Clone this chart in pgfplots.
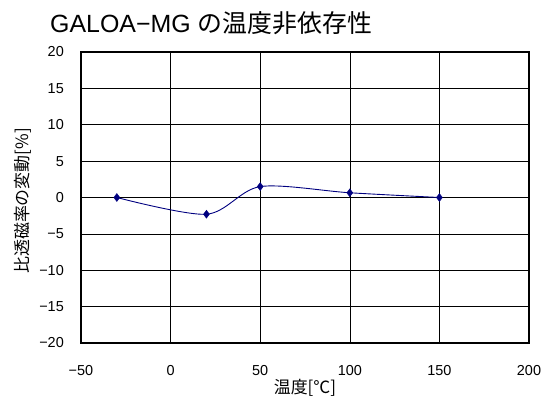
\documentclass[border=0pt]{standalone}
\usepackage{pgfplots}
\pgfplotsset{compat=1.18}
\usepackage{fontspec}
\setmainfont{Liberation Sans}
\newfontfamily\cjk{Noto Sans CJK JP}
\definecolor{navy}{RGB}{0,0,128}
\begin{document}
\begin{tikzpicture}
\path[use as bounding box] (0,0) rectangle (548bp,403bp);
\begin{axis}[
  at={(81bp,60bp)}, anchor=south west,
  width=448bp, height=291bp, scale only axis,
  xmin=-50, xmax=200, ymin=-20, ymax=20,
  xtick={-50,0,50,100,150,200},
  ytick={-20,-15,-10,-5,0,5,10,15,20},
  xticklabels={−50,0,50,100,150,200},
  yticklabels={−20,−15,−10,−5,0,5,10,15,20},
  grid=major,
  major grid style={black, line width=0.6pt},
  axis line style={black, line width=1.3pt},
  tick style={draw=none},
  ticklabel style={font=\fontsize{14.5}{17}\selectfont},
  yticklabel style={inner sep=0pt, anchor=east, xshift=-17bp},
  xticklabel style={inner sep=0pt, anchor=north, yshift=-22bp},
  axis on top=false,
]
\addplot[navy, line width=0.9pt, smooth, tension=0.5,
  mark=diamond*, mark size=4pt, mark options={fill=navy, draw=navy, line width=0.4pt}]
  coordinates {(-30,0) (20,-2.3) (50,1.5) (100,0.65) (150,0)};
\end{axis}
\node[anchor=base west, inner sep=0pt] at (50bp,370bp)
  {\fontsize{25}{30}\selectfont GALOA−MG {\cjk の温度非依存性}};
\node[inner sep=0pt] at (305bp,15bp)
  {\cjk\fontsize{17}{20}\selectfont 温度[℃]};
\node[inner sep=0pt, rotate=90] at (23bp,202bp)
  {\cjk\fontsize{17}{20}\selectfont 比透磁率の変動[\%]};
\end{tikzpicture}
\end{document}
